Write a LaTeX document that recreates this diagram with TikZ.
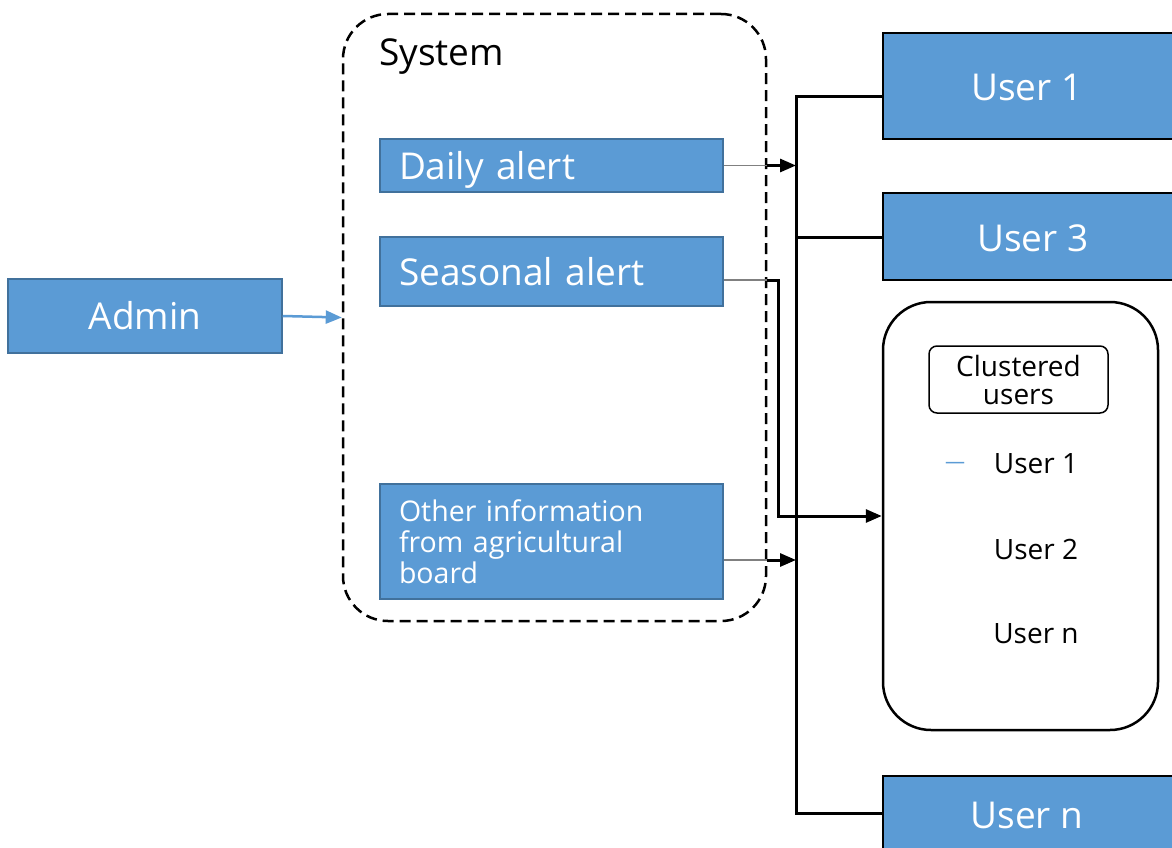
\documentclass[tikz,border=0pt]{standalone}
\usepackage{fontspec}
\setmainfont{Open Sans}
\usetikzlibrary{arrows.meta,calc}
\definecolor{boxblue}{HTML}{5B9BD5}
\definecolor{boxedge}{HTML}{41719C}
\tikzset{
  bigtxt/.style={font=\fontsize{37}{44}\selectfont},
  smalltxt/.style={font=\fontsize{28.5}{31}\selectfont},
  midtxt/.style={font=\fontsize{28}{28}\selectfont},
  leftbox/.style={draw=boxedge, line width=1.5pt, fill=boxblue, text=white, inner sep=0pt},
  userbox/.style={draw=black, line width=2.5pt, fill=boxblue, text=white, inner sep=0pt, bigtxt},
  conn/.style={draw=black, line width=3pt},
  graylink/.style={draw=gray, line width=1.5pt},
  tip/.style={-{Triangle[length=16pt,width=13pt]}},
}
\begin{document}
\begin{tikzpicture}[x=1pt,y=-1pt]
\useasboundingbox (0,0) rectangle (1172,848);
\clip (0,0) rectangle (1172,848);
\fill[white] (0,0) rectangle (1172,848);
% left
\node[leftbox, bigtxt, minimum width=274pt, minimum height=74pt] (admin) at (145,316) {Admin};
\node[draw=black, line width=2.5pt, dash pattern=on 11pt off 6pt, rounded corners=45pt,
      minimum width=423pt, minimum height=607pt] (system) at (554.5,317.5) {};
\node[anchor=west, bigtxt, inner sep=0pt] (systemlbl) at (379,57) {System};
\node[leftbox, bigtxt, minimum height=53pt, text width=305pt, inner xsep=19pt, align=left, text height=30pt, text depth=2.6pt] (daily) at (551.5,165.5) {Daily alert};
\node[leftbox, bigtxt, minimum height=69pt, text width=305pt, inner xsep=19pt, align=left] (seasonal) at (551.5,271.5) {Seasonal alert};
\node[leftbox, smalltxt, minimum height=115pt, text width=305pt, inner xsep=19pt, align=left] (other) at (551.5,541.5) {Other information\\from agricultural\\board};
% right
\node[userbox, minimum width=293pt, minimum height=106pt] (user1) at (1029.5,86) {};
\node[bigtxt, text=white] (user1t) at (1027,87) {User 1};
\node[userbox, minimum width=293pt, minimum height=87pt] (user3) at (1029.5,236.5) {};
\node[bigtxt, text=white] (user3t) at (1033,238) {User 3};
\node[userbox, minimum width=293pt, minimum height=80pt] (usern) at (1029.5,816) {};
\node[bigtxt, text=white] (userntxt) at (1027,815) {User n};
\node[draw=black, line width=2.5pt, rounded corners=48pt, minimum width=275pt, minimum height=428pt] (cluster) at (1020.5,516) {};
\node[draw=black, line width=1.5pt, rounded corners=8pt, minimum width=179pt, minimum height=67pt, midtxt, align=center, inner sep=0pt] (cu) at (1018.5,379.5) {Clustered\\users};
\node[midtxt] (cu1) at (1036,464) {User 1};
\node[font=\fontsize{20}{20}\selectfont, text=boxblue] (cudash) at (955,465) {—};
\node[midtxt] (cu2) at (1036,549) {User 2};
\node[midtxt] (cun) at (1036,634) {User n};
% admin arrow
\draw[draw=boxblue, line width=2.5pt, tip] (admin.east) -- (system.west);
% bus
\coordinate (b1) at (796,97);
\coordinate (b3) at (796,237);
\coordinate (bn) at (796,813);
\draw[conn] (b1 -| user1.west) -- (b1) -- (bn) -- (bn -| usern.west);
\draw[conn] (b3) -- (b3 -| user3.west);
% daily
\draw[graylink] (daily.east) -- (daily.east -| system.east);
\draw[conn, tip] (daily.east -| system.east) -- (daily.east -| b1);
% seasonal
\coordinate (s0) at ([yshift=-8.5pt]seasonal.east);
\draw[graylink] (s0) -- (s0 -| system.east);
\draw[conn, tip] (s0 -| system.east) -- ++(11,0) |- (cluster.west);
% other
\coordinate (o0) at ([yshift=-18.5pt]other.east);
\draw[graylink] (o0) -- (o0 -| system.east);
\draw[conn, tip] (o0 -| system.east) -- (o0 -| b1);
\end{tikzpicture}
\end{document}
